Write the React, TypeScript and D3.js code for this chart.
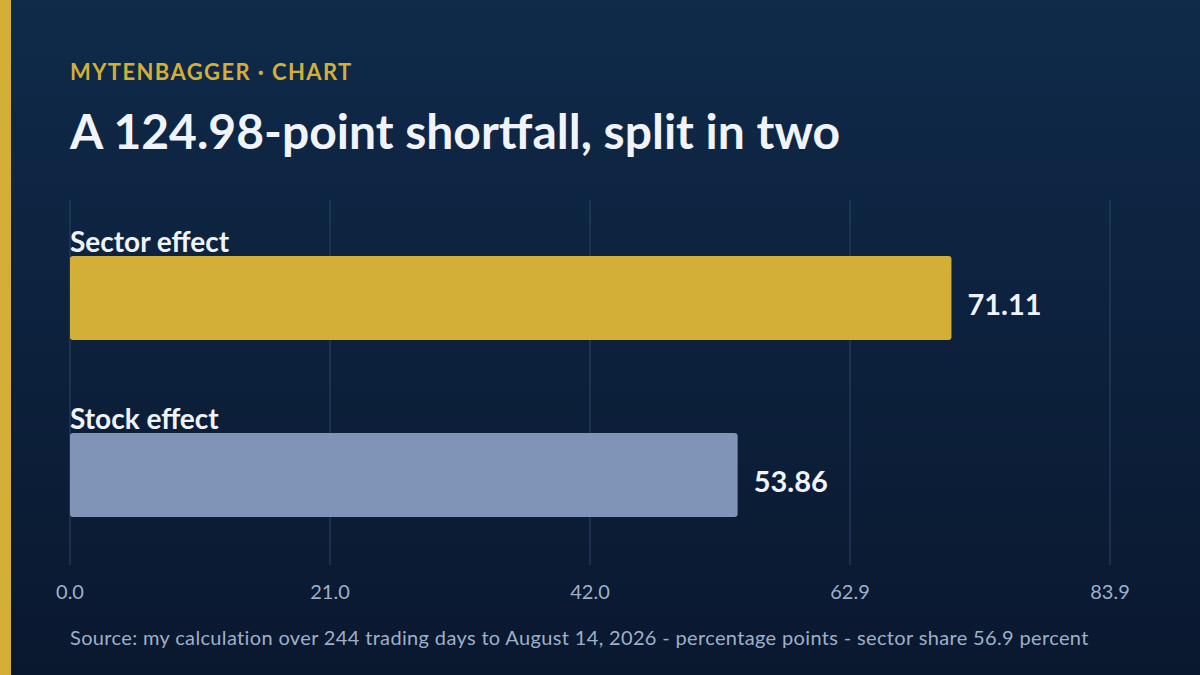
import React, { useEffect, useRef } from "react";
import * as d3 from "d3";

const categories = ["Sector effect", "Stock effect"];
const values = [71.11, 53.86];
const barColors = ["#d4af37", "#7f94b6"];
const axisMax = 83.9;
const tickLabels = ["0.0", "21.0", "42.0", "62.9", "83.9"];

const W = 1200;
const H = 675;
const FONT = "Lato, 'Open Sans', sans-serif";

export default function App() {
  const ref = useRef<SVGSVGElement>(null);

  useEffect(() => {
    const svg = d3.select(ref.current);
    svg.selectAll("*").remove();

    const defs = svg.append("defs");
    const grad = defs
      .append("linearGradient")
      .attr("id", "bg")
      .attr("x1", 0)
      .attr("y1", 0)
      .attr("x2", 0)
      .attr("y2", 1);
    grad.append("stop").attr("offset", "0%").attr("stop-color", "#0f2a4a");
    grad.append("stop").attr("offset", "100%").attr("stop-color", "#0a182f");

    svg.append("rect").attr("width", W).attr("height", H).attr("fill", "url(#bg)");
    svg.append("rect").attr("width", 11).attr("height", H).attr("fill", "#d4af37");

    // header
    svg
      .append("text")
      .attr("x", 70)
      .attr("y", 80)
      .attr("fill", "#d4af37")
      .style("font-family", FONT)
      .style("font-weight", 700)
      .style("font-size", "22px")
      .style("letter-spacing", "1.4px")
      .text("MYTENBAGGER · CHART");

    svg
      .append("text")
      .attr("x", 70)
      .attr("y", 149)
      .attr("fill", "#f0f3fa")
      .style("font-family", FONT)
      .style("font-weight", 700)
      .style("font-size", "48px")
      .text("A 124.98-point shortfall, split in two");

    const x = d3.scaleLinear().domain([0, axisMax]).range([70, 1110]);
    const tickValues = tickLabels.map((_, i) => (axisMax * i) / (tickLabels.length - 1));

    const y = d3
      .scaleBand<string>()
      .domain(categories)
      .range([256, 517])
      .paddingInner(0.525)
      .paddingOuter(0);

    // gridlines
    svg
      .append("g")
      .selectAll("line")
      .data(tickValues)
      .enter()
      .append("line")
      .attr("x1", (d) => x(d))
      .attr("x2", (d) => x(d))
      .attr("y1", 200)
      .attr("y2", 565)
      .attr("stroke", "#2c4668")
      .attr("stroke-width", 1);

    svg
      .append("g")
      .selectAll("text")
      .data(tickValues)
      .enter()
      .append("text")
      .attr("x", (d) => x(d))
      .attr("y", 599)
      .attr("text-anchor", "middle")
      .attr("fill", "#9fb0c9")
      .style("font-family", FONT)
      .style("font-size", "20px")
      .text((_, i) => tickLabels[i]);

    const rows = svg
      .append("g")
      .selectAll("g")
      .data(categories)
      .enter()
      .append("g");

    rows
      .append("rect")
      .attr("x", x(0))
      .attr("y", (d) => y(d)!)
      .attr("width", (_, i) => x(values[i]) - x(0))
      .attr("height", y.bandwidth())
      .attr("rx", 3)
      .attr("fill", (_, i) => barColors[i]);

    rows
      .append("text")
      .attr("x", x(0))
      .attr("y", (d) => y(d)! - 4)
      .attr("fill", "#f0f3fa")
      .style("font-family", FONT)
      .style("font-weight", 700)
      .style("font-size", "28px")
      .text((d) => d);

    rows
      .append("text")
      .attr("x", (_, i) => x(values[i]) + 16)
      .attr("y", (d) => y(d)! + y.bandwidth() / 2 + 17)
      .attr("fill", "#f0f3fa")
      .style("font-family", FONT)
      .style("font-weight", 700)
      .style("font-size", "29px")
      .text((_, i) => values[i].toFixed(2));

    svg
      .append("text")
      .attr("x", 70)
      .attr("y", 645)
      .attr("fill", "#9fb0c9")
      .style("font-family", FONT)
      .style("font-size", "20px")
      .style("letter-spacing", "0.35px")
      .text(
        "Source: my calculation over 244 trading days to August 14, 2026 - percentage points - sector share 56.9 percent"
      );
  }, []);

  return (
    <svg
      ref={ref}
      width={W}
      height={H}
      style={{ position: "absolute", left: 0, top: 0, display: "block" }}
    />
  );
}
